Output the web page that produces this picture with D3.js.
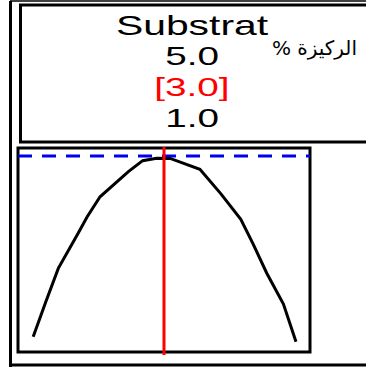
<!DOCTYPE html>
<html>
<head>
<meta charset="utf-8">
<script src="https://cdn.jsdelivr.net/npm/d3@7"></script>
<style>
  html, body { margin: 0; padding: 0; background: #fff; overflow: hidden; }
  svg { display: block; }
</style>
</head>
<body>
<svg id="chart" width="366" height="367"></svg>
<script>
// Response curve: position along the substrate axis (0–100) and relative activity (0–100)
const curveX = [5.2, 9.5, 13.8, 20.5, 23.7, 28.1, 37.8, 42.7, 47.5, 52.1, 62.3, 69.5, 76.3, 80.5, 85.2, 90.9, 95.2];
const curveY = [7.5, 24.5, 41.0, 58.0, 66.3, 76.1, 88.4, 93.8, 95.0, 94.9, 89.6, 77.5, 65.0, 53.0, 38.6, 23.5, 5.0];
// Reference levels
const optimumX = [50];
const maxLevel = [96.1];
// Concentration labels
const titleLabel = ["Substrat"];
const concLabels = ["5.0", "[3.0]", "1.0"];
const concColors = ["#000000", "#ff0000", "#000000"];
const unitLabel = ["الركيزة %"];

const W = 366, H = 367;
const svg = d3.select("#chart");
const sans = "'Liberation Sans', Arial, sans-serif";

// Outer frame lines
svg.append("line").attr("x1", 10).attr("x2", W).attr("y1", 1).attr("y2", 1)
  .attr("stroke", "#000").attr("stroke-width", 1.5);
svg.append("line").attr("x1", 10.5).attr("x2", 10.5).attr("y1", 1).attr("y2", H)
  .attr("stroke", "#000").attr("stroke-width", 3);
svg.append("line").attr("x1", 10).attr("x2", W).attr("y1", 365).attr("y2", 365)
  .attr("stroke", "#000").attr("stroke-width", 3);

// Label panel (open on the right)
svg.append("path")
  .attr("d", `M${W},5 H20.5 V142 H${W}`)
  .attr("fill", "none").attr("stroke", "#000").attr("stroke-width", 3);

const labels = svg.append("g").attr("transform", "translate(192,0) scale(1.46,1)");
labels.append("text").attr("x", 0).attr("y", 35)
  .attr("text-anchor", "middle").attr("font-family", sans).attr("font-size", 28)
  .text(titleLabel[0]);
labels.selectAll("text.conc").data(concLabels).join("text")
  .attr("class", "conc")
  .attr("x", 0).attr("y", (d, i) => 65 + i * 30.8)
  .attr("text-anchor", "middle").attr("font-family", sans).attr("font-size", 26.5)
  .attr("fill", (d, i) => concColors[i])
  .text(d => d);

svg.append("text").attr("x", 357).attr("y", 55)
  .attr("direction", "rtl").attr("text-anchor", "start")
  .attr("font-family", "'DejaVu Sans', sans-serif").attr("font-size", 20)
  .text(unitLabel[0]);

// Plot panel
const x = d3.scaleLinear().domain([0, 100]).range([18, 310]);
const y = d3.scaleLinear().domain([0, 100]).range([352, 148]);

svg.append("rect").attr("x", x(0)).attr("y", y(100)).attr("width", x(100) - x(0)).attr("height", y(0) - y(100))
  .attr("fill", "none").attr("stroke", "#000").attr("stroke-width", 3);

svg.append("line").attr("x1", x(0)).attr("x2", x(100)).attr("y1", y(maxLevel[0])).attr("y2", y(maxLevel[0]))
  .attr("stroke", "#0000ee").attr("stroke-width", 3).attr("stroke-dasharray", "14,10");

const pts = curveX.map((v, i) => [v, curveY[i]]);
svg.append("path").datum(pts)
  .attr("d", d3.line().x(d => x(d[0])).y(d => y(d[1])))
  .attr("fill", "none").attr("stroke", "#000").attr("stroke-width", 3).attr("stroke-linejoin", "miter");

svg.append("line").attr("x1", x(optimumX[0])).attr("x2", x(optimumX[0]))
  .attr("y1", y(100) - 1).attr("y2", y(0) + 3)
  .attr("stroke", "#ff0000").attr("stroke-width", 3);
</script>
</body>
</html>
